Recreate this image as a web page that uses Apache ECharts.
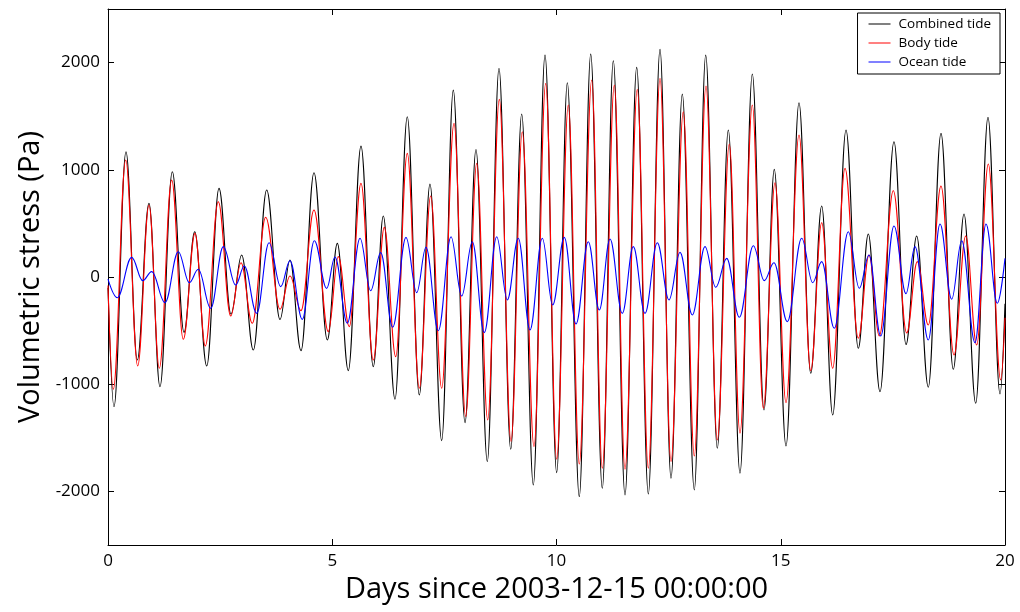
<!DOCTYPE html>
<html>
<head>
<meta charset="utf-8">
<script src="https://cdn.jsdelivr.net/npm/echarts@6/dist/echarts.min.js"></script>
<style>html,body{margin:0;padding:0;background:#fff;}#c{width:1020px;height:612px;}</style>
</head>
<body>
<div id="c"></div>
<script>
// Extrema: [day, Pa]
var combinedTide = [
[0,-100],[0.134,-1209],[0.401,1168],[0.653,-774],[0.914,687],[1.159,-1023],[1.434,982],[1.695,-516],[1.933,422],[2.201,-830],
[2.475,827],[2.742,-345],[2.981,205],[3.240,-681],[3.538,811],[3.835,-395],[4.058,158],[4.303,-687],[4.593,973],[4.890,-587],
[5.113,314],[5.358,-873],[5.641,1221],[5.915,-836],[6.138,569],[6.399,-1140],[6.673,1495],[6.941,-1100],[7.179,867],[7.440,-1526],
[7.699,1743],[7.960,-1358],[8.205,1190],[8.457,-1722],[8.718,1946],[8.979,-1607],[9.224,1520],[9.483,-1940],[9.744,2070],[10.004,-1825],
[10.241,1812],[10.508,-2048],[10.763,2079],[11.021,-1970],[11.267,2017],[11.527,-2033],[11.788,1955],[12.047,-2023],[12.308,2123],[12.553,-1877],
[12.805,1706],[13.072,-1986],[13.327,2070],[13.585,-1597],[13.831,1371],[14.091,-1830],[14.366,1893],[14.627,-1240],[14.856,1004],[15.117,-1576],
[15.407,1625],[15.668,-898],[15.913,662],[16.158,-1287],[16.455,1371],[16.729,-665],[16.952,401],[17.213,-1069],[17.525,1262],[17.793,-630],
[18.031,382],[18.290,-1028],[18.573,1340],[18.847,-861],[19.086,587],[19.347,-1178],[19.621,1489],[19.889,-1091],[20,-250]
];
var bodyTide = [
[0,-80],[0.118,-1047],[0.395,1091],[0.662,-830],[0.914,671],[1.144,-851],[1.420,904],[1.679,-581],[1.940,407],[2.169,-643],
[2.459,702],[2.736,-364],[2.965,133],[3.217,-432],[3.516,557],[3.835,-301],[4.058,9],[4.303,-314],[4.593,625],[4.912,-510],
[5.135,190],[5.380,-463],[5.641,873],[5.915,-774],[6.161,463],[6.415,-743],[6.673,1153],[6.941,-1038],[7.195,755],[7.440,-1038],
[7.715,1433],[7.975,-1302],[8.221,1060],[8.466,-1333],[8.725,1657],[8.986,-1535],[9.237,1355],[9.498,-1582],[9.759,1806],[10.004,-1700],
[10.263,1604],[10.508,-1744],[10.785,1837],[11.021,-1784],[11.289,1790],[11.527,-1793],[11.801,1750],[12.047,-1784],[12.308,1853],[12.553,-1722],
[12.827,1541],[13.072,-1669],[13.333,1781],[13.585,-1520],[13.853,1240],[14.091,-1457],[14.366,1604],[14.611,-1224],[14.872,879],[15.117,-1172],
[15.407,1324],[15.668,-874],[15.913,506],[16.158,-851],[16.433,1013],[16.729,-571],[16.968,205],[17.198,-550],[17.510,805],[17.808,-522],
[18.045,143],[18.290,-448],[18.573,848],[18.863,-727],[19.124,382],[19.369,-634],[19.628,1054],[19.904,-960],[20,-380]
];
var oceanTide = [
[0,-20],[0.207,-193],[0.528,183],[0.774,-34],[0.974,50],[1.271,-239],[1.567,236],[1.813,-53],[2.013,72],[2.290,-292],
[2.571,283],[2.847,-75],[3.039,103],[3.315,-339],[3.590,320],[3.851,-90],[4.058,152],[4.332,-395],[4.600,338],[4.876,-106],
[5.061,186],[5.336,-432],[5.619,361],[5.857,-128],[6.080,227],[6.348,-469],[6.644,370],[6.883,-146],[7.090,277],[7.365,-501],
[7.648,376],[7.886,-177],[8.123,329],[8.390,-519],[8.667,376],[8.903,-214],[9.148,361],[9.409,-494],[9.683,361],[9.915,-261],
[10.174,370],[10.435,-438],[10.709,329],[10.954,-308],[11.193,354],[11.467,-339],[11.712,283],[11.973,-339],[12.247,320],[12.508,-214],
[12.754,230],[13.028,-354],[13.311,283],[13.550,-96],[13.795,174],[14.076,-376],[14.388,292],[14.633,-34],[14.849,133],[15.146,-416],
[15.467,361],[15.712,-53],[15.913,143],[16.194,-478],[16.506,422],[16.751,-105],[16.968,205],[17.229,-550],[17.525,476],[17.793,-155],
[17.993,283],[18.290,-587],[18.551,494],[18.811,-208],[19.034,338],[19.331,-613],[19.576,494],[19.828,-245],[20,174]
];
var seriesNames = ['Combined tide', 'Body tide', 'Ocean tide'];
var xTicks = [0, 5, 10, 15, 20];
var yTicks = [-2000, -1000, 0, 1000, 2000];
var xTitle = 'Days since 2003-12-15 00:00:00';
var yTitle = 'Volumetric stress (Pa)';

var chart = echarts.init(document.getElementById('c'), null, {renderer: 'canvas'});
var FONT = 'Open Sans';
function baseX(pos, show) {
  return {
    type: 'value', position: pos, min: 0, max: 20, interval: 5,
    axisLine: {show: true, onZero: false, lineStyle: {color: '#000', width: 1}},
    axisTick: {show: true, inside: true, length: 6, lineStyle: {color: '#000'}},
    axisLabel: {show: show, color: '#000', fontSize: 17, fontFamily: FONT, margin: 8},
    splitLine: {show: false}
  };
}
function baseY(pos, show) {
  return {
    type: 'value', position: pos, min: -2500, max: 2500, interval: 500,
    axisLine: {show: true, onZero: false, lineStyle: {color: '#000', width: 1}},
    axisTick: {show: true, inside: true, length: 6, lineStyle: {color: '#000'}, customValues: yTicks},
    axisLabel: {show: show, color: '#000', fontSize: 17, fontFamily: FONT, margin: 8, customValues: yTicks,
      formatter: function (v) { return (v % 1000 === 0) ? String(v) : ''; }},
    splitLine: {show: false}
  };
}
var xa = baseX('bottom', true);
xa.name = xTitle; xa.nameLocation = 'middle'; xa.nameGap = 30;
xa.nameTextStyle = {fontSize: 29, fontFamily: FONT, color: '#000'};
var ya = baseY('left', true);
ya.name = yTitle; ya.nameLocation = 'middle'; ya.nameGap = 60;
ya.nameTextStyle = {fontSize: 29, fontFamily: FONT, color: '#000'};

var colors = ['#000000', '#ff0000', '#0000ff'];
var datas = [combinedTide, bodyTide, oceanTide];
var series = datas.map(function (d, i) {
  return {
    name: seriesNames[i], type: 'line', data: d, xAxisIndex: 0, yAxisIndex: 0,
    symbol: 'none', showSymbol: false, smooth: 0.38, smoothMonotone: 'x',
    lineStyle: {color: colors[i], width: 1.1}, itemStyle: {color: colors[i]},
    animation: false, z: 2 + i
  };
});

chart.setOption({
  animation: false,
  backgroundColor: '#fff',
  grid: {left: 108, right: 15, top: 9, bottom: 67, show: false},
  xAxis: [xa, baseX('top', false)],
  yAxis: [ya, baseY('right', false)],
  legend: {
    data: seriesNames, orient: 'vertical', right: 20, top: 13,
    backgroundColor: '#fff', borderColor: '#000', borderWidth: 1,
    padding: [3, 9, 4, 11], itemGap: 3, itemWidth: 22, itemHeight: 10,
    textStyle: {fontSize: 13.5, fontFamily: FONT, color: '#000', padding: [0, 0, 0, 3], lineHeight: 16},
    icon: 'path://M0,5 L22,5 L22,6 L0,6 Z'
  },
  series: series
});
</script>
</body>
</html>
